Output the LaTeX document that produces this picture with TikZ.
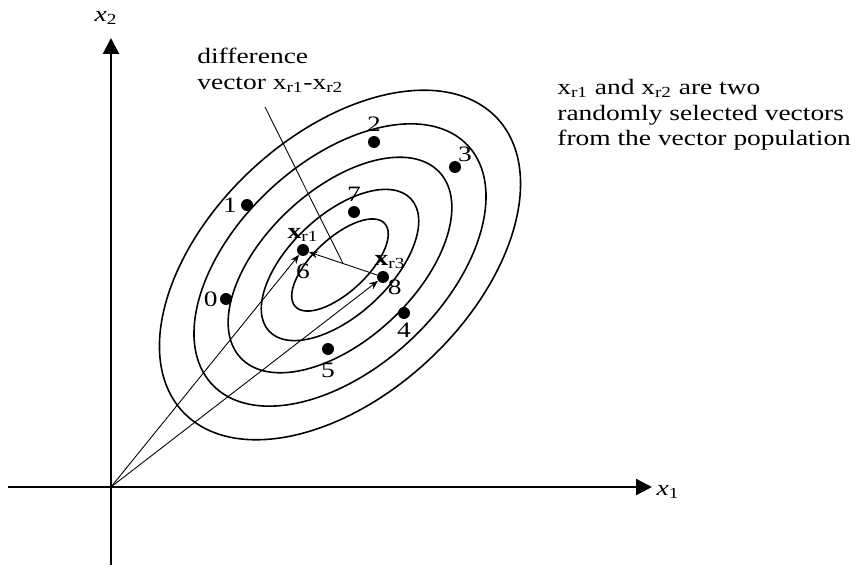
\documentclass[tikz,border=0pt]{standalone}
\usepackage{fontspec}
\setmainfont{Liberation Serif}[FakeStretch=1.25]
\usetikzlibrary{arrows.meta,positioning}

\begin{document}
\begin{tikzpicture}[
  axis/.style={line width=1.3pt, -{Triangle[length=9pt,width=9pt]}},
  ell/.style={line width=0.9pt},
  dot/.style={circle, fill, inner sep=0pt, minimum size=0.24cm},
  num/.style={font=\fontsize{12.5}{14}\selectfont, inner sep=1pt},
  txt/.style={font=\fontsize{12.5}{14.5}\selectfont, align=left,
              anchor=west, inner sep=0pt},
  arr/.style={-{Stealth[length=5pt,width=4pt]}, line width=0.5pt}
]
\useasboundingbox (-2.22,-1.6) rectangle (14.9,9.74);

% axes
\coordinate (O) at (0,0);
\coordinate (xs) at (-2.06,0);
\coordinate (xe) at (10.82,0);
\coordinate (ys) at (0,-1.56);
\coordinate (ye) at (0,8.98);
\draw[axis] (xs) -- (xe);
\draw[axis] (ys) -- (ye);
\node[num] (xlab) at (11.14,-0.1) {\textit{x}\textsubscript{1}};
\node[num] (ylab) at (-0.1,9.38) {\textit{x}\textsubscript{2}};

% contours
\coordinate (c) at (4.58,4.44);
\foreach \a/\b in {4.3/2.6, 3.5/2.06, 2.72/1.5, 1.94/1.0, 1.22/0.54}
  \draw[ell, rotate around={43:(c)}] (c) ellipse [x radius=\a, y radius=\b];

% population
\node[dot] (p0) at (2.30,3.76) {};
\node[dot] (p1) at (2.72,5.64) {};
\node[dot] (p2) at (5.26,6.90) {};
\node[dot] (p3) at (6.88,6.40) {};
\node[dot] (p4) at (5.86,3.48) {};
\node[dot] (p5) at (4.34,2.76) {};
\node[dot] (p6) at (3.84,4.74) {};
\node[dot] (p7) at (4.86,5.50) {};
\node[dot] (p8) at (5.44,4.20) {};

\node[num, left=0pt of p0] (n0) {0};
\node[num, left=1pt of p1] (n1) {1};
\node[num, above=1pt of p2] (n2) {2};
\node[num, above right=-1pt and -2pt of p3] (n3) {3};
\node[num, below=1pt of p4] (n4) {4};
\node[num, below=3pt of p5] (n5) {5};
\node[num, below=3pt of p6] (n6) {6};
\node[num, above=1pt of p7] (n7) {7};
\node[num, below right=-2pt and -1pt of p8] (n8) {8};
\node[num, above=0pt of p6] (r1) {\textbf{x}\textsubscript{r1}};
\node[num, above=0pt of p8, xshift=4pt] (r3) {\textbf{x}\textsubscript{r3}};

% vectors
\draw[arr] (O) -- (p6);
\draw[arr] (O) -- (p8);
\draw[arr] (p8) -- (p6) coordinate[midway] (mid);

% annotations
\node[txt] (diff) at (1.72,8.33) {difference\\vector x\textsubscript{r1}-x\textsubscript{r2}};
\coordinate (lead) at (3.08,7.60);
\draw[line width=0.5pt] (lead) -- (mid);
\node[txt] (note) at (8.92,7.44) {x\textsubscript{r1} and x\textsubscript{r2} are two\\randomly selected vectors\\from the vector population};
\end{tikzpicture}
\end{document}
